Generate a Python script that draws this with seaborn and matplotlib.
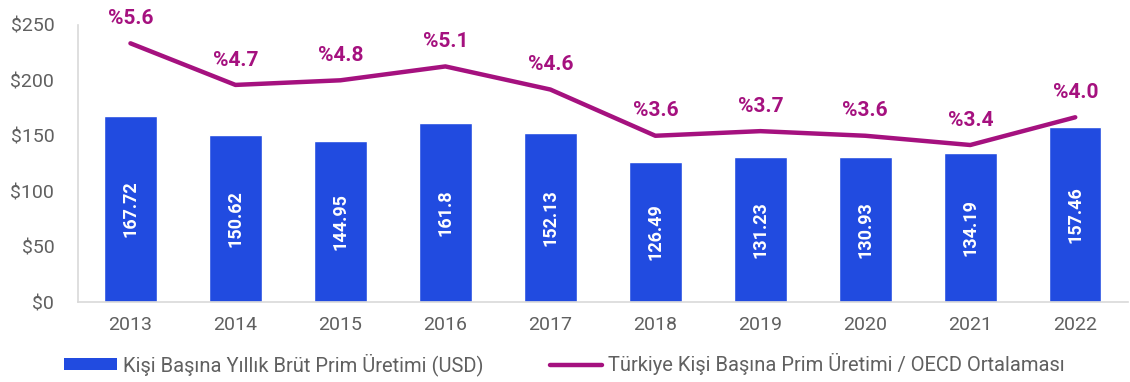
import matplotlib
matplotlib.use("Agg")
import matplotlib.pyplot as plt
import seaborn as sns
import pandas as pd
import numpy as np
from matplotlib.patches import Patch
from matplotlib.lines import Line2D

years = ["2013", "2014", "2015", "2016", "2017", "2018", "2019", "2020", "2021", "2022"]
premium_usd = [167.72, 150.62, 144.95, 161.8, 152.13, 126.49, 131.23, 130.93, 134.19, 157.46]
oecd_ratio = [5.6, 4.7, 4.8, 5.1, 4.6, 3.6, 3.7, 3.6, 3.4, 4.0]
y_ticks = [0, 50, 100, 150, 200, 250]

bar_label = "Kişi Başına Yıllık Brüt Prim Üretimi (USD)"
line_label = "Türkiye Kişi Başına Prim Üretimi / OECD Ortalaması"

BLUE = "#214BE0"
PURPLE = "#A5117F"
GREY = "#606060"
SPINE = "#d9d9d9"

sns.set_theme(style="white")
plt.rcParams["font.family"] = ["Roboto", "DejaVu Sans"]

df = pd.DataFrame({"year": years, "premium": premium_usd, "ratio": oecd_ratio})
df["pos"] = np.arange(len(years))

fig = plt.figure(figsize=(11.3, 3.82), dpi=100)
ax = fig.add_axes([0.069, 0.209, 0.929, 0.726])

sns.barplot(data=df, x="year", y="premium", color=BLUE, width=0.5,
            saturation=1, ax=ax)

for p, v in zip(ax.patches, premium_usd):
    ax.text(p.get_x() + p.get_width() / 2, v / 2, f"{v:g}",
            rotation=90, ha="center", va="center", color="white",
            fontsize=13, fontweight="bold")

ax.set_xlim(-0.5, len(years) - 0.5)
ax.set_ylim(0, 250)
ax.set_yticks(y_ticks)
ax.set_yticklabels([f"${t}" for t in y_ticks])
ax.set_xlabel("")
ax.set_ylabel("")
ax.tick_params(axis="both", colors=GREY, labelsize=14, length=0)
ax.tick_params(axis="x", pad=10)
ax.tick_params(axis="y", pad=17)
for side in ["top", "right"]:
    ax.spines[side].set_visible(False)
for side in ["left", "bottom"]:
    ax.spines[side].set_color(SPINE)
    ax.spines[side].set_linewidth(1.2)

ax2 = ax.twinx()
sns.lineplot(data=df, x="pos", y="ratio", color=PURPLE, linewidth=3.2,
             ax=ax2, legend=False)
ax2.set_ylim(0, 6)
ax2.set_xlim(-0.5, len(years) - 0.5)
ax2.axis("off")

for x, r in zip(df["pos"], oecd_ratio):
    ax2.annotate(f"%{r:.1f}", (x, r), xytext=(0, 11), textcoords="offset points",
                 ha="center", va="bottom", color=PURPLE, fontsize=15,
                 fontweight="bold")

handles = [Patch(facecolor=BLUE, edgecolor="none"),
           Line2D([0], [0], color=PURPLE, linewidth=3.2)]
fig.legend(handles, [bar_label, line_label], loc="center left",
           bbox_to_anchor=(0.041, 0.045), ncol=2, frameon=False,
           fontsize=14.5, labelcolor=GREY, handlelength=2.6, handleheight=0.55,
           handletextpad=0.3, columnspacing=3.3)

fig.savefig("out.png", dpi=100)
